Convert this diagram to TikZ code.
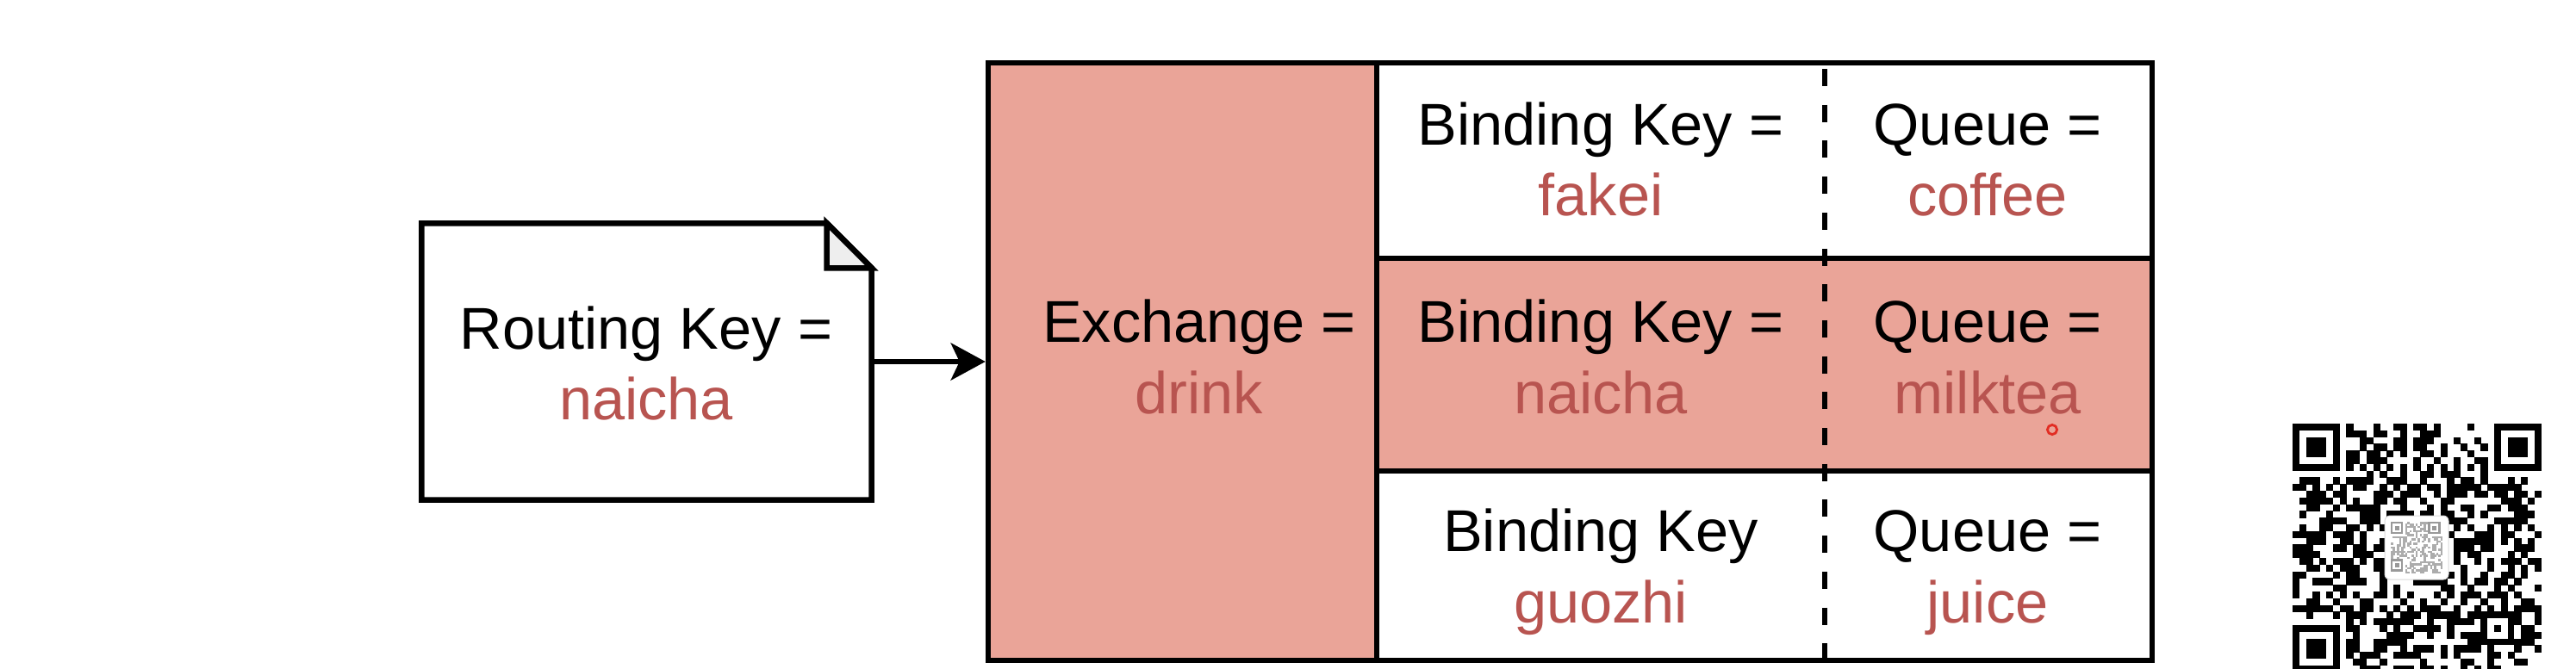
\documentclass[tikz,border=0pt]{standalone}
\usepackage{fontspec}
\setmainfont{Liberation Sans}
\usetikzlibrary{calc,arrows.meta}
\definecolor{saltPink}{RGB}{234,164,152}
\definecolor{keyRed}{RGB}{184,84,80}
\definecolor{foldGray}{RGB}{238,238,238}
\definecolor{cursorRed}{RGB}{226,45,35}

\begin{document}
\begin{tikzpicture}[x=1cm,y=1cm,
  cellbox/.style={draw=black,line width=0.065cm,minimum width=9.00cm,inner sep=0pt},
  keytxt/.style={anchor=base,text=black,font=\fontsize{19.5}{23.4}\selectfont,inner sep=0pt},
  valtxt/.style={anchor=base,text=keyRed,font=\fontsize{19.5}{23.4}\selectfont,inner sep=0pt}]
\path[use as bounding box] (0,0) rectangle (29.90,-7.76);

% routing key note
\node[minimum width=5.21cm,minimum height=3.20cm,inner sep=0pt] (rkey) at (7.505,-4.20) {};
\draw[line width=0.065cm] (rkey.north west) -- ($(rkey.north east)+(-0.52,0)$) -- ($(rkey.north east)+(0,-0.52)$) -- (rkey.south east) -- (rkey.south west) -- cycle;
\draw[line width=0.065cm,fill=foldGray] ($(rkey.north east)+(-0.52,0)$) -- ($(rkey.north east)+(-0.52,-0.52)$) -- ($(rkey.north east)+(0,-0.52)$) -- cycle;
\node[keytxt] (rklabel) at (7.50,-4.05) {Routing Key =};
\node[valtxt] (rkvalue) at (7.50,-4.87) {naicha};

% exchange and bindings
\node[draw=black,fill=saltPink,line width=0.065cm,minimum width=4.51cm,minimum height=6.94cm,inner sep=0pt] (exch) at (13.725,-4.20) {};
\node[cellbox,minimum height=2.27cm] (row1) at (20.48,-1.865) {};
\node[cellbox,fill=saltPink,minimum height=2.47cm] (row2) at (20.48,-4.235) {};
\node[cellbox,minimum height=2.20cm] (row3) at (20.48,-6.57) {};
\coordinate (qtop) at (21.18,-0.73);
\coordinate (qbot) at (21.18,-7.67);
\draw[line width=0.058cm,dash pattern=on 0.20cm off 0.217cm,dash phase=0.347cm] (qtop) -- (qbot);

\draw[line width=0.065cm,-{Stealth[length=0.40cm,width=0.43cm,inset=0.10cm]}] (rkey.east) -- (exch.west);

\node[keytxt] (exlabel) at (13.92,-3.97) {Exchange =};
\node[valtxt] (exvalue) at (13.92,-4.80) {drink};

\node[keytxt] (bklabel1) at (18.58,-1.68) {Binding Key =};
\node[valtxt] (bkvalue1) at (18.58,-2.50) {fakei};
\node[keytxt] (qlabel1) at (23.07,-1.68) {Queue =};
\node[valtxt] (qvalue1) at (23.07,-2.50) {coffee};

\node[keytxt] (bklabel2) at (18.58,-3.97) {Binding Key =};
\node[valtxt] (bkvalue2) at (18.58,-4.80) {naicha};
\node[keytxt] (qlabel2) at (23.07,-3.97) {Queue =};
\node[valtxt] (qvalue2) at (23.07,-4.80) {milktea};

\node[keytxt] (bklabel3) at (18.58,-6.40) {Binding Key};
\node[valtxt] (bkvalue3) at (18.58,-7.23) {guozhi};
\node[keytxt] (qlabel3) at (23.07,-6.40) {Queue =};
\node[valtxt] (qvalue3) at (23.07,-7.23) {juice};

% pointer ring
\draw[cursorRed,line width=0.028cm] (23.82,-4.99) circle (0.056);

% qr code
\foreach \fx/\fy in {0/0,30/0,0/30}{
  \fill[black] (26.61+\fx*0.078,-4.92-\fy*0.078) rectangle ++(0.546,-0.546);
  \fill[white] (26.688+\fx*0.078,-4.998-\fy*0.078) rectangle ++(0.39,-0.39);
  \fill[black] (26.766+\fx*0.078,-5.076-\fy*0.078) rectangle ++(0.234,-0.234);
}
\fill[black] (26.61+28*0.078,-4.92-28*0.078) rectangle ++(0.39,-0.39);
\fill[white] (26.61+29*0.078,-4.92-29*0.078) rectangle ++(0.234,-0.234);
\fill[black] (26.61+30*0.078,-4.92-30*0.078) rectangle ++(0.078,-0.078);
\pgfmathsetseed{41}
\foreach \i in {0,...,36}{
  \foreach \j in {0,...,36}{
    \pgfmathtruncatemacro\qskip{(\i<8 && \j<8) || (\i>28 && \j<8) || (\i<8 && \j>28) || (\i>27 && \i<33 && \j>27 && \j<33) || (\i>13 && \i<23 && \j>13 && \j<23)}
    \ifnum\qskip=0
      \pgfmathtruncatemacro\qbit{(\i==6 || \j==6) ? (mod(\i+\j,2)==0) : (rnd<0.5)}
      \ifnum\qbit=1
        \fill[black] (26.61+\i*0.078,-4.92-\j*0.078) rectangle ++(0.081,-0.081);
      \fi
    \fi
  }
}
\node[draw=gray!30,fill=white,rounded corners=0.06cm,line width=0.01cm,minimum size=0.74cm,inner sep=0pt] (qrlogo) at (28.05,-6.36) {};
\pgfmathsetseed{7}
\foreach \i in {0,...,24}{
  \foreach \j in {0,...,24}{
    \pgfmathtruncatemacro\qbit{rnd<0.45}
    \ifnum\qbit=1
      \fill[gray!65] (27.75+\i*0.024,-6.06-\j*0.024) rectangle ++(0.025,-0.025);
    \fi
  }
}
\foreach \fx/\fy in {0/0,18/0,0/18}{
  \fill[white] (27.75+\fx*0.024,-6.06-\fy*0.024) rectangle ++(0.168,-0.168);
  \fill[gray!80] (27.75+\fx*0.024,-6.06-\fy*0.024) rectangle ++(0.144,-0.144);
  \fill[white] (27.774+\fx*0.024,-6.084-\fy*0.024) rectangle ++(0.096,-0.096);
  \fill[gray!80] (27.798+\fx*0.024,-6.108-\fy*0.024) rectangle ++(0.048,-0.048);
}
\end{tikzpicture}
\end{document}
